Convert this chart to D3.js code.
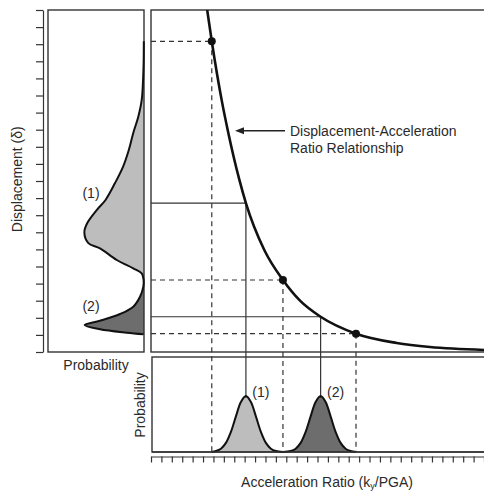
<!DOCTYPE html>
<html>
<head>
<meta charset="utf-8">
<script src="https://cdn.jsdelivr.net/npm/d3@7"></script>
<style>
  html, body { margin: 0; padding: 0; background: #fff; }
  svg { display: block; }
  text { font-family: "Liberation Sans", Arial, sans-serif; fill: #2a2a2a; }
</style>
</head>
<body>
<svg id="chart" width="484" height="494"></svg>
<script>
// ---- Data ----
// Displacement–acceleration ratio relationship
const curveRatio = [0.27, 0.292, 0.34, 0.37, 0.425, 0.456, 0.545, 0.634, 0.716, 0.815, 0.985, 1.18, 1.34, 1.60];
const curveDisp  = [20.0, 18.17, 14.7, 12.9, 10.05, 8.71, 5.95, 4.21, 3.0, 2.06, 1.07, 0.53, 0.29, 0.12];

// Highlighted points (dashed projections)
const pointRatio = [0.292, 0.634, 0.985];
const pointDisp  = [18.17, 4.21, 1.07];

// Distribution means (solid projections)
const meanRatio = [0.456, 0.815];
const meanDisp  = [8.71, 2.06];
const meanLabels = ["(1)", "(2)"];

// Probability of acceleration ratio (bottom panel)
const accProb1Ratio = [0.292, 0.312, 0.336, 0.36, 0.384, 0.408, 0.432, 0.456, 0.48, 0.504, 0.528, 0.552, 0.576, 0.60, 0.634];
const accProb1Value = [0.0, 0.010, 0.035, 0.096, 0.212, 0.375, 0.527, 0.59, 0.527, 0.375, 0.212, 0.096, 0.035, 0.010, 0.0];
const accProb2Ratio = [0.634, 0.671, 0.695, 0.719, 0.743, 0.767, 0.791, 0.815, 0.839, 0.863, 0.887, 0.911, 0.935, 0.959, 0.985];
const accProb2Value = [0.0, 0.010, 0.035, 0.096, 0.212, 0.375, 0.527, 0.59, 0.527, 0.375, 0.212, 0.096, 0.035, 0.010, 0.0];

// Probability of displacement (left panel)
const dispProb1Disp  = [18.17, 16.68, 14.74, 13.76, 12.81, 11.81, 10.84, 9.88, 8.89, 8.30, 7.54, 7.0, 6.37, 6.06, 5.38, 4.89, 4.60, 4.21];
const dispProb1Value = [0.002, 0.005, 0.024, 0.06, 0.113, 0.16, 0.22, 0.305, 0.405, 0.498, 0.597, 0.628, 0.586, 0.463, 0.287, 0.113, 0.024, 0.004];
const dispProb2Disp  = [4.21, 3.82, 3.23, 2.65, 2.22, 1.83, 1.58, 1.33, 1.13, 1.04];
const dispProb2Value = [0.004, 0.007, 0.042, 0.113, 0.253, 0.463, 0.625, 0.463, 0.182, 0.005];

// Axis ticks (no labels)
const xTickValues = d3.range(0, 33).map(i => i * 0.05);
const yTickValues = d3.range(0, 21);

// Texts
const yTitle = "Displacement (δ)";
const xTitleMain = "Acceleration Ratio (k";
const xTitleSub = "y";
const xTitleEnd = "/PGA)";
const probTitle = "Probability";
const annotationLines = ["Displacement-Acceleration", "Ratio Relationship"];

// ---- Layout ----
const svg = d3.select("#chart");
const main = { left: 151, top: 10, bottom: 352, right: 490 };
const bottomPanel = { left: 152, top: 357, bottom: 452 };
const leftPanel = { left: 48, right: 144, top: 10, bottom: 352 };

const x = d3.scaleLinear().domain([0, 1.6]).range([151, 484]);
const y = d3.scaleLinear().domain([0, 20]).range([352, 10]);
const pBottom = d3.scaleLinear().domain([0, 1]).range([bottomPanel.bottom, bottomPanel.top]);
const pLeft = d3.scaleLinear().domain([0, 1]).range([leftPanel.right, leftPanel.right - 95]);

const frameColor = "#333";
const lightFill = "#bdbdbd";
const darkFill = "#6d6d6d";

// Fills first
const g1 = accProb1Ratio.map((r, i) => [r, accProb1Value[i]]);
const g2 = accProb2Ratio.map((r, i) => [r, accProb2Value[i]]);
const bArea = d3.area().x(d => x(d[0])).y0(pBottom(0)).y1(d => pBottom(d[1])).curve(d3.curveCatmullRom.alpha(0.5));
const bLine = d3.line().x(d => x(d[0])).y(d => pBottom(d[1])).curve(d3.curveCatmullRom.alpha(0.5));
svg.append("path").attr("d", bArea(g1)).attr("fill", lightFill);
svg.append("path").attr("d", bArea(g2)).attr("fill", darkFill);

const l1 = dispProb1Disp.map((d, i) => [dispProb1Value[i], d]);
const l2 = dispProb2Disp.map((d, i) => [dispProb2Value[i], d]);
const lArea = d3.area().y(d => y(d[1])).x0(pLeft(0)).x1(d => pLeft(d[0])).curve(d3.curveCatmullRom.alpha(0.5));
const lLine = d3.line().x(d => pLeft(d[0])).y(d => y(d[1])).curve(d3.curveCatmullRom.alpha(0.5));
svg.append("path").attr("d", lArea(l1)).attr("fill", lightFill);
svg.append("path").attr("d", lArea(l2)).attr("fill", darkFill);

// Frames
svg.append("rect").attr("x", leftPanel.left).attr("y", leftPanel.top)
  .attr("width", leftPanel.right - leftPanel.left).attr("height", leftPanel.bottom - leftPanel.top)
  .attr("fill", "none").attr("stroke", frameColor).attr("stroke-width", 1.4);
svg.append("rect").attr("x", main.left).attr("y", main.top)
  .attr("width", main.right - main.left).attr("height", main.bottom - main.top)
  .attr("fill", "none").attr("stroke", frameColor).attr("stroke-width", 1.4);
svg.append("rect").attr("x", bottomPanel.left).attr("y", bottomPanel.top)
  .attr("width", main.right - bottomPanel.left).attr("height", bottomPanel.bottom - bottomPanel.top)
  .attr("fill", "none").attr("stroke", frameColor).attr("stroke-width", 1.4);

// Dashed projections
const dashG = svg.append("g").attr("stroke", "#333").attr("stroke-width", 1.2).attr("stroke-dasharray", "5,4").attr("fill", "none");
pointRatio.forEach((r, i) => {
  dashG.append("line").attr("x1", main.left).attr("x2", x(r)).attr("y1", y(pointDisp[i])).attr("y2", y(pointDisp[i]));
  dashG.append("line").attr("x1", x(r)).attr("x2", x(r)).attr("y1", y(pointDisp[i])).attr("y2", bottomPanel.bottom);
});

// Solid projections
const solidG = svg.append("g").attr("stroke", "#333").attr("stroke-width", 1.2).attr("fill", "none");
const peakVal = [d3.max(accProb1Value), d3.max(accProb2Value)];
meanRatio.forEach((r, i) => {
  solidG.append("line").attr("x1", main.left).attr("x2", x(r)).attr("y1", y(meanDisp[i])).attr("y2", y(meanDisp[i]));
  solidG.append("line").attr("x1", x(r)).attr("x2", x(r)).attr("y1", y(meanDisp[i])).attr("y2", pBottom(peakVal[i]) + 2);
});

// Distribution outlines
svg.append("path").attr("d", bLine(g1)).attr("fill", "none").attr("stroke", "#111").attr("stroke-width", 2);
svg.append("path").attr("d", bLine(g2)).attr("fill", "none").attr("stroke", "#111").attr("stroke-width", 2);
svg.append("line").attr("x1", bottomPanel.left).attr("x2", 484).attr("y1", pBottom(0)).attr("y2", pBottom(0))
  .attr("stroke", frameColor).attr("stroke-width", 1.4);
svg.append("path").attr("d", lLine(l1.concat(l2.slice(1)))).attr("fill", "none").attr("stroke", "#111").attr("stroke-width", 2);

// Main curve (clipped)
svg.append("clipPath").attr("id", "mainClip").append("rect")
  .attr("x", main.left).attr("y", main.top).attr("width", main.right - main.left).attr("height", main.bottom - main.top);
const mainLine = d3.line().x(d => x(d[0])).y(d => y(d[1])).curve(d3.curveMonotoneX);
svg.append("path").attr("clip-path", "url(#mainClip)")
  .attr("d", mainLine(curveRatio.map((r, i) => [r, curveDisp[i]])))
  .attr("fill", "none").attr("stroke", "#111").attr("stroke-width", 2.6);

// Dots
svg.selectAll("circle.pt").data(pointRatio).enter().append("circle")
  .attr("cx", d => x(d)).attr("cy", (d, i) => y(pointDisp[i])).attr("r", 4).attr("fill", "#111");

// Axes
const xAxis = d3.axisBottom(x).tickValues(xTickValues).tickSize(6).tickSizeOuter(0).tickFormat("");
const gx = svg.append("g").attr("transform", "translate(0,456.5)").call(xAxis);
gx.selectAll("path, line").attr("stroke", frameColor).attr("stroke-width", 1.2);
const yAxis = d3.axisLeft(y).tickValues(yTickValues).tickSize(7).tickSizeOuter(0).tickFormat("");
const gy = svg.append("g").attr("transform", "translate(43,0)").call(yAxis);
gy.selectAll("path, line").attr("stroke", frameColor).attr("stroke-width", 1.2);

// Labels
svg.append("text").attr("transform", "translate(22," + y(10.1) + ") rotate(-90)")
  .attr("text-anchor", "middle").attr("font-size", 14).text(yTitle);
svg.append("text").attr("x", (leftPanel.left + leftPanel.right) / 2).attr("y", 370)
  .attr("text-anchor", "middle").attr("font-size", 14).text(probTitle);
svg.append("text").attr("transform", "translate(145,405) rotate(-90)")
  .attr("text-anchor", "middle").attr("font-size", 14).text(probTitle);
const xt = svg.append("text").attr("x", 327).attr("y", 487).attr("text-anchor", "middle").attr("font-size", 14);
xt.append("tspan").text(xTitleMain);
xt.append("tspan").attr("font-size", 9).attr("dy", 2).text(xTitleSub);
xt.append("tspan").attr("dy", -2).text(xTitleEnd);

// Distribution labels
meanRatio.forEach((r, i) => {
  svg.append("text").attr("x", x(r) + 15).attr("y", pBottom(peakVal[i]) + 1)
    .attr("text-anchor", "middle").attr("font-size", 14).text(meanLabels[i]);
});
svg.append("text").attr("x", 91).attr("y", y(9.0)).attr("text-anchor", "middle").attr("font-size", 14).text(meanLabels[0]);
svg.append("text").attr("x", 91).attr("y", y(2.4)).attr("text-anchor", "middle").attr("font-size", 14).text(meanLabels[1]);

// Annotation arrow
const tipX = x(0.4036), tipY = y(12.94);
svg.append("line").attr("x1", tipX + 6).attr("x2", tipX + 50).attr("y1", tipY).attr("y2", tipY)
  .attr("stroke", "#222").attr("stroke-width", 1.3);
svg.append("path").attr("d", `M${tipX},${tipY} L${tipX + 9},${tipY - 3.5} L${tipX + 9},${tipY + 3.5} Z`).attr("fill", "#222");
annotationLines.forEach((t, i) => {
  svg.append("text").attr("x", tipX + 55).attr("y", tipY + 5 + i * 17).attr("font-size", 14).text(t);
});
</script>
</body>
</html>
